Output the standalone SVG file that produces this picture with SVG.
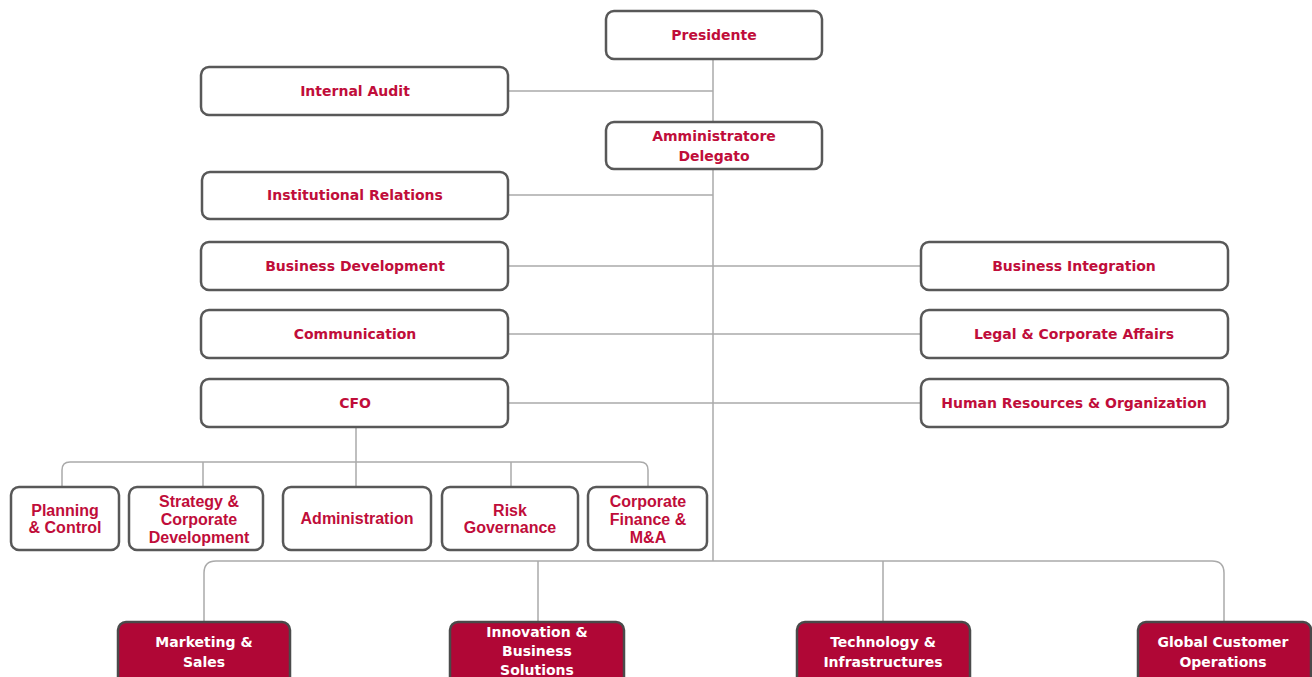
<svg xmlns="http://www.w3.org/2000/svg" width="1312" height="677" viewBox="0 0 1312 677">
<style>
.b{fill:#fff;stroke:#585858;stroke-width:2.5}
.d{fill:#b00736;stroke:#4a4a4a;stroke-width:2.5}
.t{font-family:"DejaVu Sans",Verdana,sans-serif;font-weight:bold;font-size:14px;fill:#c00d3a;text-anchor:middle}
.s{font-family:"Liberation Sans",Arial,sans-serif;font-weight:bold;font-size:16px;fill:#c00d3a;text-anchor:middle}
.w{font-family:"DejaVu Sans",Verdana,sans-serif;font-weight:bold;font-size:14px;fill:#fff;text-anchor:middle}
.c{fill:none;stroke:#aaa;stroke-width:1.5}
</style>
<rect width="1312" height="677" fill="#fff"/>
<g id="connectors">
<path class="c" d="M713 59V561"/>
<path class="c" d="M508 91H713"/>
<path class="c" d="M508 195H713"/>
<path class="c" d="M508 266H921"/>
<path class="c" d="M508 334H921"/>
<path class="c" d="M508 403H921"/>
<path class="c" d="M356 427V462"/>
<path class="c" d="M62 487V470Q62 462 70 462H640Q648 462 648 470V487"/>
<path class="c" d="M203 462V487M356 462V487M511 462V487"/>
<path class="c" d="M204 622V573Q204 561 216 561H1212Q1224 561 1224 573V622"/>
<path class="c" d="M538 561V622M883 561V622"/>
</g>
<g id="presidente"><rect class="b" x="606" y="11" width="216" height="48" rx="8"/><text class="t" x="714" y="40">Presidente</text></g>
<g id="internal-audit"><rect class="b" x="201" y="67" width="307" height="48" rx="8"/><text class="t" x="355" y="96">Internal Audit</text></g>
<g id="ad"><rect class="b" x="606" y="122" width="216" height="47" rx="8"/><text class="t" x="714" y="141">Amministratore</text><text class="t" x="714" y="161">Delegato</text></g>
<g id="institutional-relations"><rect class="b" x="202" y="172" width="306" height="47" rx="8"/><text class="t" x="355" y="200">Institutional Relations</text></g>
<g id="business-development"><rect class="b" x="201" y="242" width="307" height="48" rx="8"/><text class="t" x="355" y="271">Business Development</text></g>
<g id="communication"><rect class="b" x="201" y="310" width="307" height="48" rx="8"/><text class="t" x="355" y="339">Communication</text></g>
<g id="cfo"><rect class="b" x="201" y="379" width="307" height="48" rx="8"/><text class="t" x="355" y="408">CFO</text></g>
<g id="business-integration"><rect class="b" x="921" y="242" width="307" height="48" rx="8"/><text class="t" x="1074" y="271">Business Integration</text></g>
<g id="legal"><rect class="b" x="921" y="310" width="307" height="48" rx="8"/><text class="t" x="1074" y="339">Legal &amp; Corporate Affairs</text></g>
<g id="hr"><rect class="b" x="921" y="379" width="307" height="48" rx="8"/><text class="t" x="1074" y="408">Human Resources &amp; Organization</text></g>
<g id="planning"><rect class="b" x="11" y="487" width="108" height="63" rx="8"/><text class="s" x="65" y="516">Planning</text><text class="s" x="65" y="533">&amp; Control</text></g>
<g id="strategy"><rect class="b" x="129" y="487" width="134" height="63" rx="8"/><text class="s" x="199" y="507">Strategy &amp;</text><text class="s" x="199" y="525">Corporate</text><text class="s" x="199" y="543">Development</text></g>
<g id="administration"><rect class="b" x="283" y="487" width="148" height="63" rx="8"/><text class="s" x="357" y="524">Administration</text></g>
<g id="risk"><rect class="b" x="442" y="487" width="136" height="63" rx="8"/><text class="s" x="510" y="516">Risk</text><text class="s" x="510" y="533">Governance</text></g>
<g id="corp-finance"><rect class="b" x="588" y="487" width="119" height="63" rx="8"/><text class="s" x="648" y="507">Corporate</text><text class="s" x="648" y="525">Finance &amp;</text><text class="s" x="648" y="543">M&amp;A</text></g>
<g id="marketing"><rect class="d" x="118" y="622" width="172" height="70" rx="8"/><text class="w" x="204" y="647">Marketing &amp;</text><text class="w" x="204" y="667">Sales</text></g>
<g id="innovation"><rect class="d" x="450" y="622" width="174" height="70" rx="8"/><text class="w" x="537" y="637">Innovation &amp;</text><text class="w" x="537" y="656">Business</text><text class="w" x="537" y="675">Solutions</text></g>
<g id="technology"><rect class="d" x="797" y="622" width="173" height="70" rx="8"/><text class="w" x="883" y="647">Technology &amp;</text><text class="w" x="883" y="667">Infrastructures</text></g>
<g id="global"><rect class="d" x="1138" y="622" width="173" height="70" rx="8"/><text class="w" x="1223" y="647">Global Customer</text><text class="w" x="1223" y="667">Operations</text></g>
</svg>
